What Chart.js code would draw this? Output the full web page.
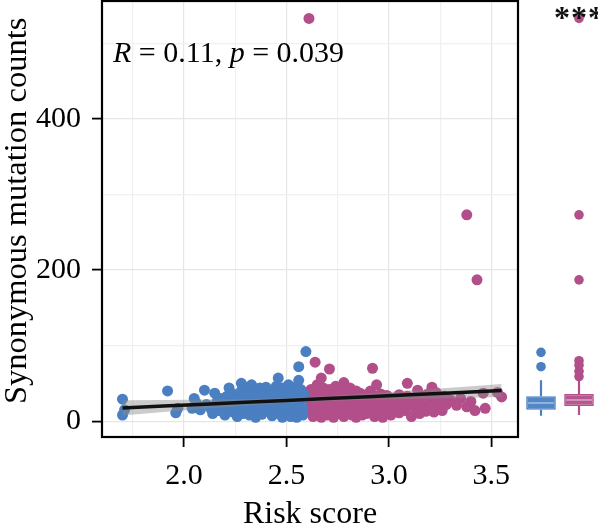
<!DOCTYPE html>
<html>
<head>
<meta charset="utf-8">
<script src="https://cdn.jsdelivr.net/npm/chart.js@4.4.1/dist/chart.umd.min.js"></script>
<style>
  body { margin: 0; background: #fff; }
  #wrap { position: relative; width: 600px; height: 527px; }
  #main { position: absolute; left: 0; top: 0; }
  #box { position: absolute; left: 522px; top: 0; }
</style>
</head>
<body>
<div id="wrap">
  <canvas id="main" width="600" height="527"></canvas>
  <canvas id="box" width="76" height="527"></canvas>
</div>
<script>
// low risk group (blue) and high risk group (magenta): [risk score, synonymous count]
var lowPoints = [
  [1.70,29],[1.70,8],[1.71,15],[1.92,40],[1.96,11],[1.97,17],[2.04,17],[2.05,30],[2.06,24],[2.08,15],
  [2.10,41],[2.11,22],[2.13,17],[2.15,37],[2.14,10],[2.16,25],[2.17,14],[2.18,30],[2.19,20],[2.20,8],
  [2.21,33],[2.22,44],[2.22,18],[2.23,26],[2.24,12],[2.24,36],[2.25,22],[2.26,6],[2.26,30],[2.27,16],
  [2.28,50],[2.28,40],[2.28,25],[2.29,10],[2.29,33],[2.30,20],[2.30,45],[2.31,28],[2.31,14],[2.32,38],
  [2.32,8],[2.33,48],[2.33,22],[2.34,31],[2.34,17],[2.35,42],[2.35,5],[2.35,26],[2.36,12],[2.36,35],
  [2.37,20],[2.37,44],[2.38,28],[2.38,9],[2.39,16],[2.39,38],[2.40,24],[2.40,45],[2.41,32],[2.41,13],
  [2.42,20],[2.42,40],[2.43,7],[2.43,27],[2.44,36],[2.44,17],[2.45,46],[2.45,22],[2.46,11],[2.46,57],
  [2.46,30],[2.47,38],[2.47,15],[2.48,25],[2.48,5],[2.48,44],[2.49,19],[2.49,33],[2.50,10],[2.50,28],
  [2.50,41],[2.51,48],[2.51,22],[2.51,14],[2.52,35],[2.52,6],[2.52,27],[2.53,18],[2.53,40],[2.53,30],
  [2.54,10],[2.54,24],[2.54,45],[2.55,16],[2.55,33],[2.55,5],[2.56,54],[2.56,72],[2.56,26],[2.56,38],
  [2.57,12],[2.57,20],[2.57,42],[2.58,30],[2.58,8],[2.58,17],[2.585,36],[2.595,92]
];
var highPoints = [
  [2.61,533],[2.61,30],[2.61,12],[2.62,42],[2.62,22],[2.63,6],[2.63,35],[2.64,78],[2.64,17],[2.64,27],
  [2.65,48],[2.65,10],[2.66,38],[2.66,20],[2.67,57],[2.67,30],[2.67,5],[2.68,44],[2.68,14],[2.69,25],
  [2.69,36],[2.70,8],[2.70,18],[2.71,69],[2.71,30],[2.71,42],[2.72,12],[2.72,24],[2.73,36],[2.73,5],
  [2.74,46],[2.74,18],[2.75,28],[2.75,10],[2.76,40],[2.76,22],[2.77,14],[2.77,33],[2.78,51],[2.78,6],
  [2.78,26],[2.79,19],[2.79,38],[2.80,11],[2.80,30],[2.81,44],[2.81,22],[2.82,8],[2.82,34],[2.83,16],
  [2.83,27],[2.84,40],[2.84,5],[2.85,20],[2.85,31],[2.86,12],[2.86,37],[2.87,24],[2.87,8],[2.88,29],
  [2.88,16],[2.89,35],[2.89,10],[2.90,22],[2.91,40],[2.91,14],[2.92,70],[2.92,27],[2.93,6],[2.93,33],
  [2.94,18],[2.94,48],[2.95,24],[2.95,10],[2.96,36],[2.96,16],[2.97,29],[2.97,5],[2.98,21],[2.99,34],
  [2.99,12],[3.00,26],[3.01,8],[3.02,30],[3.03,17],[3.04,24],[3.05,35],[3.05,11],[3.06,20],[3.07,28],
  [3.08,14],[3.09,50],[3.09,33],[3.10,22],[3.11,6],[3.12,30],[3.13,17],[3.14,41],[3.14,24],[3.15,10],
  [3.16,33],[3.17,20],[3.18,13],[3.19,36],[3.20,26],[3.21,45],[3.21,30],[3.22,12],[3.22,20],[3.23,38],
  [3.24,25],[3.25,28],[3.25,19],[3.26,14],[3.27,33],[3.28,22],[3.30,28],[3.33,21],[3.35,30],[3.38,19],
  [3.38,273],[3.40,26],[3.43,187],[3.42,14],[3.46,37],[3.47,17],[3.53,38],[3.55,32]
];

// linear fit with confidence band
var fitX     = [1.70, 1.90, 2.10, 2.30, 2.50, 2.70, 2.90, 3.10, 3.30, 3.55];
var fitY     = [17.5, 20.0, 22.5, 24.9, 27.4, 29.9, 32.4, 34.9, 37.3, 40.5];
var fitLower = [7.5, 12.0, 16.5, 20.4, 24.2, 26.7, 28.2, 29.4, 30.3, 32.0];
var fitUpper = [27.5, 28.0, 28.5, 29.4, 30.6, 33.1, 36.6, 40.4, 44.3, 49.0];

var xTicks = [1.75, 2.0, 2.25, 2.5, 2.75, 3.0, 3.25, 3.5];
var yTicks = [0, 100, 200, 300, 400, 500];
var xLabelTicks = [2.0, 2.5, 3.0, 3.5];
var yLabelTicks = [0, 200, 400];

// boxplot summary per group
var boxGroups   = ['Low', 'High'];
var boxQ1       = [15, 20];
var boxMedian   = [24, 28];
var boxQ3       = [33, 36];
var boxLow      = [7, 8];
var boxHigh     = [54, 54];
var lowOutliers  = [72, 91];
var highOutliers = [59, 66, 74, 80, 187, 273, 533];

var blue = '#4a7fc2';
var pink = '#b24f8a';
var serif = "'Liberation Serif', 'DejaVu Serif', serif";
var yMin = -21, yMax = 556;

function pts(arr) {
  return arr.map(function(p){ return {x: p[0], y: p[1]}; });
}
function linePts(ys) {
  return fitX.map(function(x, i){ return {x: x, y: ys[i]}; });
}

var framePlugin = {
  id: 'frame',
  afterDraw: function(chart) {
    var a = chart.chartArea, ctx = chart.ctx;
    ctx.save();
    ctx.strokeStyle = '#000';
    ctx.lineWidth = 2.2;
    ctx.strokeRect(a.left, a.top, a.right - a.left, a.bottom - a.top);
    // correlation text
    var x = a.left + 11, y = 62;
    ctx.fillStyle = '#000';
    ctx.textBaseline = 'alphabetic';
    var parts = [['R', true], [' = 0.11, ', false], ['p', true], [' = 0.039', false]];
    parts.forEach(function(p) {
      ctx.font = (p[1] ? 'italic ' : '') + '30px ' + serif;
      ctx.fillText(p[0], x, y);
      x += ctx.measureText(p[0]).width;
    });
    ctx.restore();
  }
};

new Chart(document.getElementById('main'), {
  type: 'scatter',
  data: {
    datasets: [
      { data: linePts(fitY), showLine: true, borderColor: '#111', borderWidth: 3.5, pointRadius: 0 },
      { data: linePts(fitUpper), showLine: true, borderWidth: 0, pointRadius: 0, fill: '+1', backgroundColor: 'rgba(140,140,140,0.45)' },
      { data: linePts(fitLower), showLine: true, borderWidth: 0, pointRadius: 0 },
      { data: pts(lowPoints), backgroundColor: blue, borderColor: blue, pointRadius: 5.5, borderWidth: 0 },
      { data: pts(highPoints), backgroundColor: pink, borderColor: pink, pointRadius: 5.5, borderWidth: 0 }
    ]
  },
  options: {
    responsive: false,
    animation: false,
    devicePixelRatio: 1,
    layout: { autoPadding: false, padding: { top: 1, right: 82, left: 0, bottom: 0 } },
    plugins: { legend: { display: false }, tooltip: { enabled: false } },
    scales: {
      x: {
        type: 'linear', min: 1.6, max: 3.63,
        afterBuildTicks: function(s){ s.ticks = xTicks.map(function(v){ return {value: v}; }); },
        afterFit: function(s){ s.height = 90; s.paddingLeft = 0; s.paddingRight = 0; },
        border: { display: false },
        grid: {
          color: function(c){ return xLabelTicks.indexOf(c.tick.value) >= 0 ? '#e6e6e6' : '#f0f0f0'; },
          lineWidth: 1.2,
          tickColor: function(c){ return xLabelTicks.indexOf(c.tick.value) >= 0 ? '#000' : 'rgba(0,0,0,0)'; },
          tickLength: 10, tickWidth: 1.8
        },
        ticks: {
          padding: 11, color: '#000', font: { family: serif, size: 30 },
          callback: function(v){ return xLabelTicks.indexOf(v) >= 0 ? v.toFixed(1) : ''; }
        },
        title: { display: true, text: 'Risk score', color: '#000', font: { family: serif, size: 32, lineHeight: 0.8 }, padding: 0 }
      },
      y: {
        type: 'linear', min: yMin, max: yMax,
        afterBuildTicks: function(s){ s.ticks = yTicks.map(function(v){ return {value: v}; }); },
        afterFit: function(s){ s.width = 102; s.paddingTop = 0; s.paddingBottom = 0; },
        border: { display: false },
        grid: {
          color: function(c){ return yLabelTicks.indexOf(c.tick.value) >= 0 ? '#e6e6e6' : '#f0f0f0'; },
          lineWidth: 1.2,
          tickColor: function(c){ return yLabelTicks.indexOf(c.tick.value) >= 0 ? '#000' : 'rgba(0,0,0,0)'; },
          tickLength: 10, tickWidth: 1.8
        },
        ticks: {
          padding: 11, color: '#000', font: { family: serif, size: 30 },
          callback: function(v){ return yLabelTicks.indexOf(v) >= 0 ? String(v) : ''; }
        },
        title: { display: true, text: '\u00a0\u00a0Synonymous mutation counts', color: '#000', font: { family: serif, size: 32.5, lineHeight: 1.1 }, padding: 0 }
      }
    }
  },
  plugins: [framePlugin]
});

// boxplot panel
var colors = [blue, pink];
var boxPlugin = {
  id: 'boxparts',
  afterDatasetsDraw: function(chart) {
    var ctx = chart.ctx, x = chart.scales.x, y = chart.scales.y;
    var bars = chart.getDatasetMeta(1).data;
    ctx.save();
    boxGroups.forEach(function(g, i) {
      var cx = x.getPixelForValue(i);
      var hw = bars[i].width / 2;
      ctx.strokeStyle = colors[i];
      ctx.lineWidth = 2.2;
      ctx.beginPath();
      ctx.moveTo(cx, y.getPixelForValue(boxHigh[i]));
      ctx.lineTo(cx, y.getPixelForValue(boxQ3[i]));
      ctx.moveTo(cx, y.getPixelForValue(boxQ1[i]));
      ctx.lineTo(cx, y.getPixelForValue(boxLow[i]));
      ctx.stroke();
      ctx.strokeStyle = 'rgba(255,255,255,0.4)';
      ctx.lineWidth = 1.8;
      ctx.beginPath();
      ctx.moveTo(cx - hw + 2, y.getPixelForValue(boxMedian[i]));
      ctx.lineTo(cx + hw - 2, y.getPixelForValue(boxMedian[i]));
      ctx.stroke();
    });
    ctx.fillStyle = '#111';
    ctx.font = 'bold 32px ' + serif;
    ctx.textAlign = 'center';
    ctx.textBaseline = 'top';
    var sx = x.getPixelForValue(1);
    [-17, 0, 17].forEach(function(d){ ctx.fillText('*', sx + d, 4); });
    ctx.restore();
  }
};

var outlierData = lowOutliers.map(function(v){ return {x: 'Low', y: v}; })
  .concat(highOutliers.map(function(v){ return {x: 'High', y: v}; }));

new Chart(document.getElementById('box'), {
  data: {
    labels: boxGroups,
    datasets: [
      { type: 'scatter', data: outlierData, pointRadius: 4.8, borderWidth: 0,
        backgroundColor: outlierData.map(function(d){ return d.x === 'Low' ? blue : pink; }) },
      { type: 'bar', data: boxGroups.map(function(g, i){ return [boxQ1[i], boxQ3[i]]; }),
        backgroundColor: ['rgba(74,127,194,0.95)', 'rgba(178,79,138,0.95)'],
        borderColor: colors, borderWidth: 1.5, borderSkipped: false,
        barPercentage: 0.78, categoryPercentage: 1 }
    ]
  },
  options: {
    responsive: false,
    animation: false,
    devicePixelRatio: 1,
    layout: { autoPadding: false, padding: { top: 1, bottom: 90, left: 0, right: 0 } },
    plugins: { legend: { display: false }, tooltip: { enabled: false } },
    scales: {
      x: { type: 'category', display: false, offset: true },
      y: { type: 'linear', display: false, min: yMin, max: yMax }
    }
  },
  plugins: [boxPlugin]
});
</script>
</body>
</html>
